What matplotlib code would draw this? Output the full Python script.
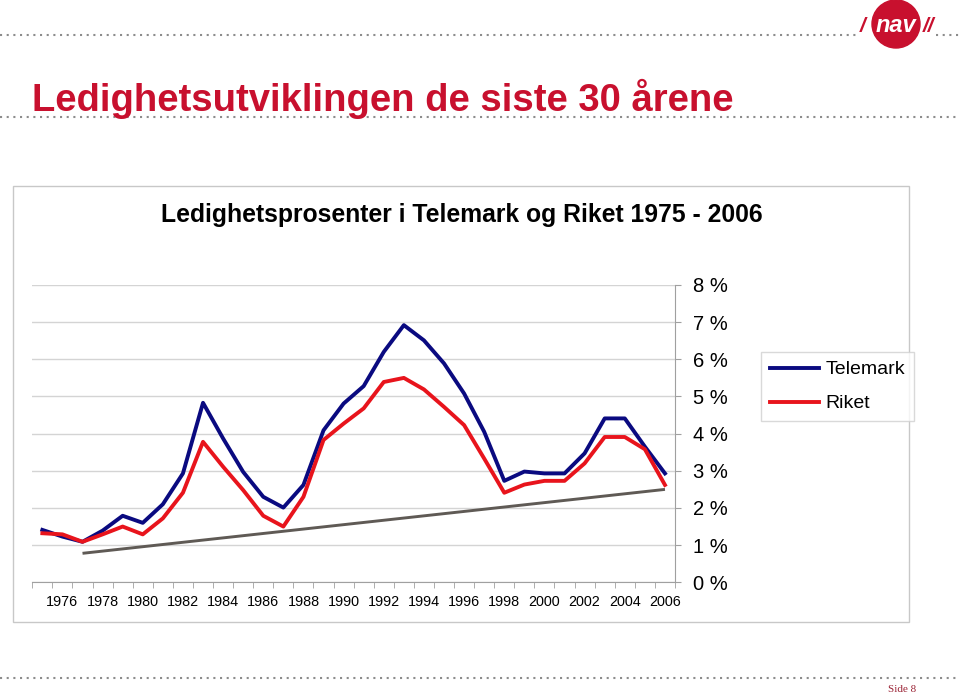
import matplotlib.pyplot as plt
from matplotlib.patches import Circle, Rectangle

years = list(range(1975, 2007))
telemark = [1.41, 1.23, 1.09, 1.39, 1.79, 1.60, 2.10, 2.93, 4.83, 3.87, 2.97, 2.30, 2.01, 2.62,
            4.09, 4.81, 5.28, 6.20, 6.92, 6.51, 5.89, 5.08, 4.05, 2.73, 2.98, 2.93, 2.93, 3.47,
            4.41, 4.41, 3.65, 2.93]
riket = [1.32, 1.29, 1.09, 1.29, 1.50, 1.29, 1.72, 2.41, 3.78, 3.11, 2.48, 1.79, 1.50, 2.30,
         3.83, 4.27, 4.68, 5.39, 5.50, 5.19, 4.72, 4.23, 3.33, 2.41, 2.63, 2.73, 2.73, 3.20,
         3.91, 3.91, 3.58, 2.62]
trend_years = [1977, 2006]
trend_vals = [0.78, 2.50]
y_ticks = [0, 1, 2, 3, 4, 5, 6, 7, 8]
y_labels = [f"{v} %" for v in y_ticks]

W, H = 960, 693
red = "#c8102e"
fig = plt.figure(figsize=(9.6, 6.93), dpi=100)

# full-figure overlay in pixel units for the slide decoration
bg = fig.add_axes([0, 0, 1, 1], zorder=0)
bg.set_xlim(0, W)
bg.set_ylim(H, 0)
bg.axis("off")

dot = dict(color="#8c8c8c", lw=1.5, ls=(0, (1, 2.2)))
bg.plot([0, 856], [35, 35], **dot)
bg.plot([936, 960], [35, 35], **dot)
bg.plot([0, 960], [117, 117], **dot)
bg.plot([0, 960], [678, 678], **dot)

# logo
bg.add_patch(Circle((896, 24), 24, color=red, zorder=3))
bg.text(896, 25, "nav", color="white", fontsize=17, fontweight="bold", style="italic",
        ha="center", va="center", family="Liberation Sans", zorder=4)
bg.text(863, 27, "/", color=red, fontsize=15, fontweight="bold", style="italic",
        ha="center", va="center", family="Liberation Sans")
bg.text(929, 27, "//", color=red, fontsize=15, fontweight="bold", style="italic",
        ha="center", va="center", family="Liberation Sans")

bg.text(32, 99, "Ledighetsutviklingen de siste 30 årene", color=red, fontsize=27.5,
        fontweight="bold", ha="left", va="center", family="Liberation Sans")

bg.add_patch(Rectangle((13, 186), 896, 436, facecolor="white", edgecolor="#c8c8c8", lw=1))
bg.text(462, 215, "Ledighetsprosenter i Telemark og Riket 1975 - 2006", color="black",
        fontsize=17.8, fontweight="bold", ha="center", va="center", family="Liberation Sans")

bg.text(888, 689, "Side 8", color="#9b2335", fontsize=8, ha="left", va="center",
        family="Liberation Serif")

# chart
x0, x1, ytop, ybot = 32.3, 675, 285, 582.3
ax = fig.add_axes([x0 / W, (H - ybot) / H, (x1 - x0) / W, (ybot - ytop) / H], zorder=1)
ax.patch.set_alpha(0)

idx = list(range(len(years)))
t_idx = [years.index(y) for y in trend_years]
ax.plot(t_idx, trend_vals, color="#5f5a55", lw=2.1, solid_capstyle="butt", zorder=2)
ax.plot(idx, telemark, color="#0a0a80", lw=2.8, label="Telemark", zorder=3)
ax.plot(idx, riket, color="#e8141c", lw=2.8, label="Riket", zorder=3)

ax.set_xlim(-0.5, len(years) - 0.5)
ax.set_ylim(0, 8)
ax.yaxis.tick_right()
ax.set_yticks(y_ticks)
ax.set_yticklabels(y_labels, fontsize=14.5, family="Liberation Sans")
ax.tick_params(axis="y", length=4, color="#a0a0a0", pad=9)
ax.grid(axis="y", color="#d4d4d4", lw=1)
ax.set_axisbelow(True)

ax.set_xticks(idx[1::2])
ax.set_xticklabels([str(y) for y in years[1::2]], fontsize=10.4, family="Liberation Sans")
ax.set_xticks([i - 0.5 for i in range(len(years) + 1)], minor=True)
ax.tick_params(axis="x", which="major", length=0, pad=9)
ax.tick_params(axis="x", which="minor", length=4, color="#a0a0a0")

for s in ["top", "left"]:
    ax.spines[s].set_visible(False)
for s in ["right", "bottom"]:
    ax.spines[s].set_color("#a0a0a0")

leg = ax.legend(loc="upper left", bbox_to_anchor=((761 - x0) / (x1 - x0), (ybot - 352) / (ybot - ytop)),
                prop={"family": "Liberation Sans", "size": 14}, frameon=True, fancybox=False,
                handlelength=2.55, handletextpad=0.3, borderpad=0.45, labelspacing=0.85,
                borderaxespad=0)
leg.get_frame().set_edgecolor("#d0d0d0")
leg.get_frame().set_linewidth(1)

fig.savefig("out.png", dpi=100)
